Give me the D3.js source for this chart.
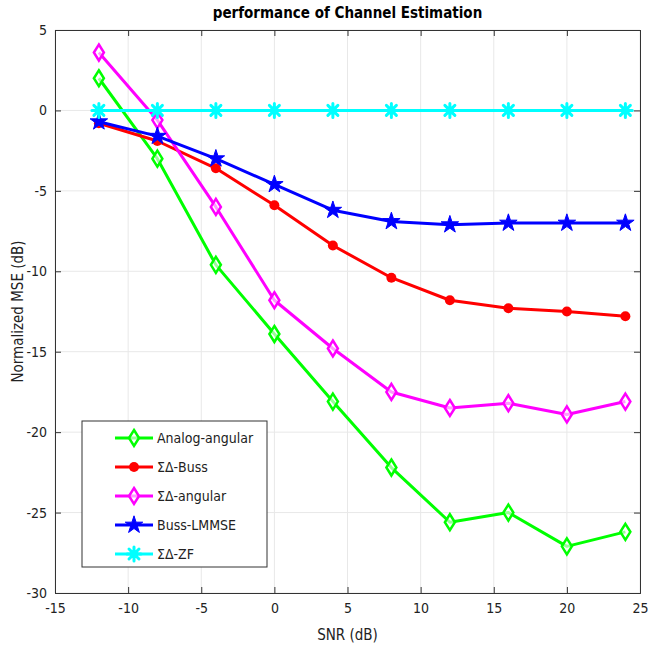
<!DOCTYPE html>
<html>
<head>
<meta charset="utf-8">
<script src="https://cdn.jsdelivr.net/npm/d3@7"></script>
<style>
  body { margin: 0; background: #fff; }
  text { font-family: "Liberation Sans Narrow", "DejaVu Sans Condensed", "Liberation Sans", Arial, sans-serif; }
</style>
</head>
<body>
<svg id="chart" width="660" height="651"></svg>
<script>
  var snr = [-12, -8, -4, 0, 4, 8, 12, 16, 20, 24];
  var analogAngular = [2.0, -3.0, -9.6, -13.9, -18.1, -22.2, -25.6, -25.0, -27.1, -26.2];
  var sdBuss = [-0.8, -1.9, -3.6, -5.9, -8.4, -10.4, -11.8, -12.3, -12.5, -12.8];
  var sdAngular = [3.6, -0.6, -6.0, -11.8, -14.8, -17.5, -18.5, -18.2, -18.9, -18.1];
  var bussLmmse = [-0.7, -1.6, -3.0, -4.6, -6.2, -6.9, -7.1, -7.0, -7.0, -7.0];
  var sdZf = [0, 0, 0, 0, 0, 0, 0, 0, 0, 0];
  var xTicks = [-15, -10, -5, 0, 5, 10, 15, 20, 25];
  var yTicks = [5, 0, -5, -10, -15, -20, -25, -30];

  var series = [
    { name: 'Analog-angular', values: analogAngular, color: '#00ff00', marker: 'diamond' },
    { name: '\u03A3\u0394-Buss', values: sdBuss, color: '#ff0000', marker: 'circle' },
    { name: '\u03A3\u0394-angular', values: sdAngular, color: '#ff00ff', marker: 'diamond' },
    { name: 'Buss-LMMSE', values: bussLmmse, color: '#0000ff', marker: 'star' },
    { name: '\u03A3\u0394-ZF', values: sdZf, color: '#00ffff', marker: 'asterisk' }
  ];

  var svg = d3.select('#chart');
  var L = 55, R = 640, T = 30, B = 593;

  var x = d3.scaleLinear().domain([-15, 25]).range([L, R]);
  var y = d3.scaleLinear().domain([-30, 5]).range([B, T]);
  var fmt = function(d) { return String(d); };  // plain hyphen, like matlab

  // grid
  svg.append('g').selectAll('line').data(xTicks).enter().append('line')
    .attr('x1', function(d) { return x(d); }).attr('x2', function(d) { return x(d); })
    .attr('y1', T).attr('y2', B)
    .attr('stroke', '#e8e8e8').attr('stroke-width', 1);
  svg.append('g').selectAll('line').data(yTicks).enter().append('line')
    .attr('y1', function(d) { return y(d); }).attr('y2', function(d) { return y(d); })
    .attr('x1', L).attr('x2', R)
    .attr('stroke', '#e8e8e8').attr('stroke-width', 1);

  // axes
  var ax = svg.append('g').attr('transform', 'translate(0,' + B + ')')
    .call(d3.axisBottom(x).tickValues(xTicks).tickSize(-6).tickPadding(10).tickFormat(fmt));
  var axTop = svg.append('g').attr('transform', 'translate(0,' + T + ')')
    .call(d3.axisTop(x).tickValues(xTicks).tickSize(-6).tickFormat(''));
  var ay = svg.append('g').attr('transform', 'translate(' + L + ',0)')
    .call(d3.axisLeft(y).tickValues(yTicks).tickSize(-6).tickPadding(8).tickFormat(fmt));
  var ayR = svg.append('g').attr('transform', 'translate(' + R + ',0)')
    .call(d3.axisRight(y).tickValues(yTicks).tickSize(-6).tickFormat(''));

  [ax, axTop, ay, ayR].forEach(function(g) {
    g.select('.domain').attr('stroke', '#333');
    g.selectAll('.tick line').attr('stroke', '#333');
    g.selectAll('.tick text').attr('font-size', 14).attr('fill', '#222');
  });

  // title and labels
  svg.append('text').attr('x', (L + R) / 2).attr('y', 18)
    .attr('text-anchor', 'middle').attr('font-size', 15).attr('font-weight', 'bold')
    .text('performance of Channel Estimation');
  svg.append('text').attr('x', (L + R) / 2).attr('y', 640)
    .attr('text-anchor', 'middle').attr('font-size', 15).attr('fill', '#222')
    .text('SNR (dB)');
  svg.append('text')
    .attr('transform', 'translate(23,' + ((T + B) / 2) + ') rotate(-90)')
    .attr('text-anchor', 'middle').attr('font-size', 15).attr('fill', '#222')
    .text('Normalized MSE (dB)');

  function drawMarker(g, type, cx, cy, color) {
    if (type === 'diamond') {
      g.append('path')
        .attr('d', 'M' + cx + ',' + (cy - 8) + 'L' + (cx + 5) + ',' + cy + 'L' + cx + ',' + (cy + 8) + 'L' + (cx - 5) + ',' + cy + 'Z')
        .attr('fill', '#fff').attr('fill-opacity', 0.6)
        .attr('stroke', color).attr('stroke-width', 2.5);
    } else if (type === 'circle') {
      g.append('circle').attr('cx', cx).attr('cy', cy).attr('r', 5).attr('fill', color);
    } else if (type === 'star') {
      g.append('path')
        .attr('d', d3.symbol().type(d3.symbolStar).size(95)())
        .attr('transform', 'translate(' + cx + ',' + cy + ')')
        .attr('fill', color).attr('stroke', color).attr('stroke-width', 1);
    } else {
      g.append('path')
        .attr('d', 'M' + cx + ',' + (cy - 7) + 'V' + (cy + 7) + 'M' + (cx - 7) + ',' + cy + 'H' + (cx + 7) +
          'M' + (cx - 5) + ',' + (cy - 5) + 'L' + (cx + 5) + ',' + (cy + 5) + 'M' + (cx - 5) + ',' + (cy + 5) + 'L' + (cx + 5) + ',' + (cy - 5))
        .attr('stroke', color).attr('stroke-width', 3).attr('stroke-linecap', 'round');
      g.append('circle').attr('cx', cx).attr('cy', cy).attr('r', 4).attr('fill', color);
    }
  }

  var line = d3.line()
    .x(function(d, i) { return x(snr[i]); })
    .y(function(d) { return y(d); });

  series.forEach(function(s) {
    var g = svg.append('g');
    g.append('path').datum(s.values)
      .attr('d', line)
      .attr('fill', 'none')
      .attr('stroke', s.color)
      .attr('stroke-width', 3)
      .attr('stroke-linejoin', 'round');
    s.values.forEach(function(v, i) {
      drawMarker(g, s.marker, x(snr[i]), y(v), s.color);
    });
  });

  // legend
  var lg = svg.append('g');
  lg.append('rect').attr('x', 82).attr('y', 421).attr('width', 185).attr('height', 146)
    .attr('fill', '#fff').attr('stroke', '#333').attr('stroke-width', 1);
  series.forEach(function(s, i) {
    var ly = 438 + i * 29;
    lg.append('line').attr('x1', 115).attr('x2', 153).attr('y1', ly).attr('y2', ly)
      .attr('stroke', s.color).attr('stroke-width', 3);
    drawMarker(lg, s.marker, 134, ly, s.color);
    lg.append('text').attr('x', 157).attr('y', ly + 5).attr('font-size', 14).attr('fill', '#222')
      .text(s.name);
  });
</script>
</body>
</html>
